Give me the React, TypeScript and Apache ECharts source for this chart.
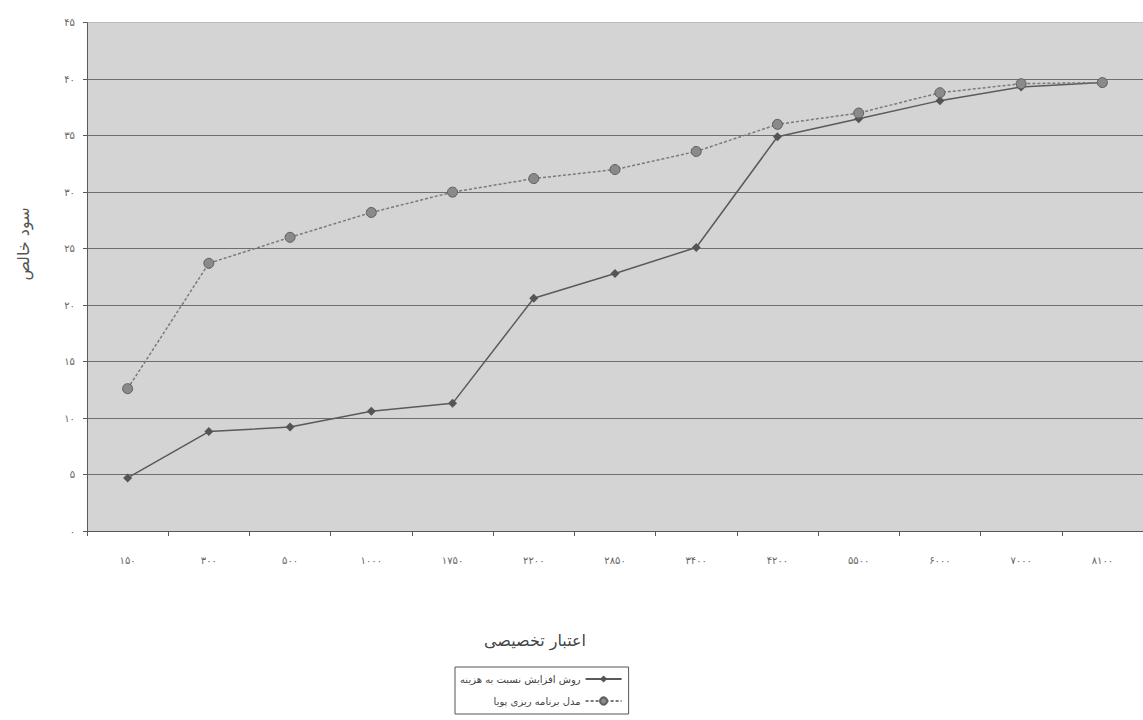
import React, { useEffect, useRef } from "react";
import * as echarts from "echarts";

const categories = ["۱۵۰", "۳۰۰", "۵۰۰", "۱۰۰۰", "۱۷۵۰", "۲۲۰۰", "۲۸۵۰", "۳۴۰۰", "۴۲۰۰", "۵۵۰۰", "۶۰۰۰", "۷۰۰۰", "۸۱۰۰"];
const seriesCostRatio = [4.7, 8.8, 9.2, 10.6, 11.3, 20.6, 22.8, 25.1, 34.9, 36.5, 38.1, 39.3, 39.7];
const seriesDynamic = [12.6, 23.7, 26.0, 28.2, 30.0, 31.2, 32.0, 33.6, 36.0, 37.0, 38.8, 39.6, 39.7];
const yTickLabels = ["۰", "۵", "۱۰", "۱۵", "۲۰", "۲۵", "۳۰", "۳۵", "۴۰", "۴۵"];
const seriesNames = ["روش افزایش نسبت به هزینه", "مدل برنامه ریزی پویا"];
const xAxisTitle = "اعتبار تخصیصی";
const yAxisTitle = "سود خالص";

const FONT = "DejaVu Sans, Noto Sans, sans-serif";

export default function App() {
  const ref = useRef<HTMLDivElement>(null);
  useEffect(() => {
    if (!ref.current) return;
    const chart = echarts.init(ref.current, null, { renderer: "svg" });
    chart.setOption({
      animation: false,
      backgroundColor: "#ffffff",
      textStyle: { fontFamily: FONT },
      grid: {
        left: 87,
        top: 22.7,
        width: 1066,
        height: 508.3,
        show: true,
        backgroundColor: "#d4d4d4",
        borderWidth: 0,
        containLabel: false,
      },
      xAxis: {
        type: "category",
        data: categories,
        boundaryGap: true,
        axisLine: { show: true, lineStyle: { color: "#5a5a5a", width: 1 } },
        axisTick: { show: true, length: 5, lineStyle: { color: "#5a5a5a" } },
        axisLabel: { color: "#666", fontSize: 10, margin: 24, fontFamily: FONT },
        splitLine: { show: false },
      },
      yAxis: {
        type: "value",
        min: 0,
        max: 45,
        interval: 5,
        axisLine: { show: true, lineStyle: { color: "#5a5a5a", width: 1 } },
        axisTick: { show: true, length: 4, lineStyle: { color: "#5a5a5a" } },
        axisLabel: {
          color: "#666",
          fontSize: 10,
          margin: 12,
          fontFamily: FONT,
          formatter: (v: number) => yTickLabels[Math.round(v / 5)] ?? "",
        },
        splitLine: {
          show: true,
          lineStyle: {
            color: ["#6e6e6e", "#6e6e6e", "#6e6e6e", "#6e6e6e", "#6e6e6e", "#6e6e6e", "#6e6e6e", "#6e6e6e", "#6e6e6e", "#bdbdbd"],
            width: 1,
          },
        },
      },
      legend: {
        orient: "vertical",
        left: 455,
        top: 667,
        align: "right",
        backgroundColor: "#ffffff",
        borderColor: "#555",
        borderWidth: 1,
        borderRadius: 0,
        padding: [7, 6, 8, 5],
        itemGap: 12,
        itemWidth: 36,
        itemHeight: 9,
        textStyle: { color: "#444", fontSize: 10, fontFamily: FONT },
        data: seriesNames,
      },
      series: [
        {
          name: seriesNames[0],
          type: "line",
          data: seriesCostRatio,
          symbol: "diamond",
          symbolSize: 9,
          itemStyle: { color: "#555555" },
          lineStyle: { color: "#5a5a5a", width: 1.5, type: "solid" },
          z: 3,
        },
        {
          name: seriesNames[1],
          type: "line",
          data: seriesDynamic,
          symbol: "circle",
          symbolSize: 10,
          itemStyle: { color: "#8a8a8a", borderColor: "#5e5e5e", borderWidth: 1 },
          lineStyle: { color: "#7a7a7a", width: 1.5, type: [3, 2] },
          z: 4,
        },
      ],
      graphic: [
        {
          type: "text",
          x: 23,
          y: 244,
          rotation: Math.PI / 2,
          style: {
            text: yAxisTitle,
            fill: "#555",
            fontSize: 16,
            fontFamily: FONT,
            align: "center",
            verticalAlign: "middle",
          },
        },
        {
          type: "text",
          x: 535,
          y: 640,
          style: {
            text: xAxisTitle,
            fill: "#444",
            fontSize: 16,
            fontFamily: FONT,
            align: "center",
            verticalAlign: "middle",
          },
        },
      ],
    });
    return () => chart.dispose();
  }, []);
  return (
    <div
      ref={ref}
      style={{ position: "absolute", left: 0, top: 0, width: 1143, height: 720 }}
    />
  );
}
